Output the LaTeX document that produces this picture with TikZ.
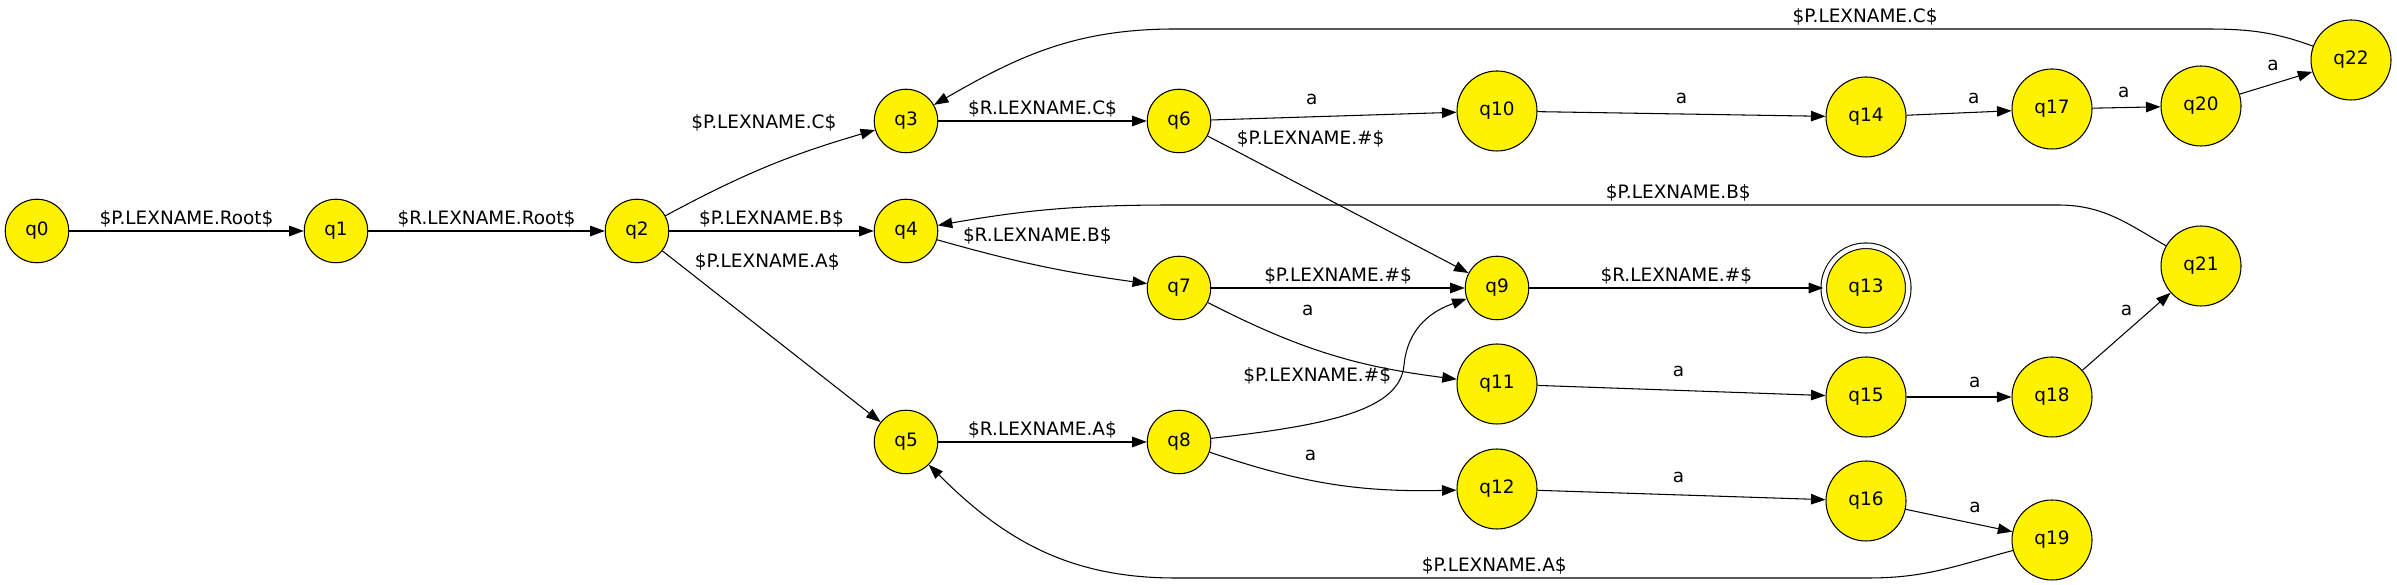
\documentclass[tikz,border=0pt]{standalone}
\usepackage{fontspec}
\setmainfont{DejaVu Sans}
\usetikzlibrary{arrows.meta}

\begin{document}
\begin{tikzpicture}[
		>={Triangle[length = 0.29cm, width = 0.21cm]},
		every node/.style = {font = \fontsize{10.5}{12}\selectfont},
		state/.style = {circle, draw, fill = yellow, line width = 0.6pt, minimum size = 1.27cm, inner sep = 0pt},
		bigstate/.style = {state, minimum size = 1.6cm},
		accept/.style = {bigstate, double, double distance = 0.09cm, minimum size = 1.69cm},
		edge/.style = {->, line width = 0.6pt},
		lbl/.style = {inner sep = 2pt, text height = 8.2pt, text depth = 1.6pt}
	]
	\useasboundingbox (0, 0) rectangle (47.94, 11.70);

	\node[state] (q0) at (0.74, 7.08) {q0};
	\node[state] (q1) at (6.72, 7.08) {q1};
	\node[state] (q2) at (12.74, 7.08) {q2};
	\node[state] (q3) at (18.12, 9.28) {q3};
	\node[state] (q4) at (18.12, 7.08) {q4};
	\node[state] (q5) at (18.12, 2.86) {q5};
	\node[state] (q6) at (23.58, 9.28) {q6};
	\node[state] (q7) at (23.58, 5.94) {q7};
	\node[state] (q8) at (23.58, 2.86) {q8};
	\node[state] (q9) at (29.94, 5.94) {q9};
	\node[bigstate] (q10) at (29.94, 9.48) {q10};
	\node[bigstate] (q11) at (29.94, 4.02) {q11};
	\node[bigstate] (q12) at (29.94, 1.92) {q12};
	\node[accept] (q13) at (37.32, 5.94) {q13};
	\node[bigstate] (q14) at (37.32, 9.36) {q14};
	\node[bigstate] (q15) at (37.32, 3.76) {q15};
	\node[bigstate] (q16) at (37.32, 1.68) {q16};
	\node[bigstate] (q17) at (41.04, 9.52) {q17};
	\node[bigstate] (q18) at (41.04, 3.76) {q18};
	\node[bigstate] (q19) at (41.04, 0.90) {q19};
	\node[bigstate] (q20) at (44.02, 9.58) {q20};
	\node[bigstate] (q21) at (44.02, 6.38) {q21};
	\node[bigstate] (q22) at (47.02, 10.50) {q22};

	\draw[edge] (q0) -- node[lbl, anchor = south]{\$P.LEXNAME.Root\$} (q1);
	\draw[edge] (q1) -- node[lbl, anchor = south]{\$R.LEXNAME.Root\$} (q2);
	\draw[edge] (q2) to[bend left = 6] node[lbl, pos = 0.48, above = 0.66cm]{\$P.LEXNAME.C\$} (q3);
	\draw[edge] (q2) -- node[lbl, anchor = south]{\$P.LEXNAME.B\$} (q4);
	\draw[edge] (q2) -- node[lbl, pos = 0.48, above = 1.18cm]{\$P.LEXNAME.A\$} (q5);
	\draw[edge] (q3) -- node[lbl, anchor = south]{\$R.LEXNAME.C\$} (q6);
	\draw[edge] (q4) to[bend right = 4] node[lbl, pos = 0.48, above = 0.34cm]{\$R.LEXNAME.B\$} (q7);
	\draw[edge] (q5) -- node[lbl, anchor = south]{\$R.LEXNAME.A\$} (q8);
	\draw[edge] (q6) -- node[lbl, pos = 0.41, above = 0.11cm]{a} (q10);
	\draw[edge] (q6) -- node[lbl, pos = 0.395, above = 0.78cm]{\$P.LEXNAME.\#\$} (q9);
	\draw[edge] (q7) -- node[lbl, anchor = south]{\$P.LEXNAME.\#\$} (q9);
	\draw[edge] (q7) to[bend right = 10] node[lbl, pos = 0.41, above = 0.49cm]{a} (q11);
	\draw[edge] (q8) .. controls (26.6, 3.2) and (28.0, 3.5) .. node[lbl, pos = 0.35, above = 0.68cm]{\$P.LEXNAME.\#\$} (28.08, 4.4) .. controls (28.16, 5.2) and (28.7, 5.5) .. (q9);
	\draw[edge] (q8) to[bend right = 10] node[lbl, pos = 0.41, above = 0.26cm]{a} (q12);
	\draw[edge] (q9) -- node[lbl, anchor = south]{\$R.LEXNAME.\#\$} (q13);
	\draw[edge] (q10) -- node[lbl, pos = 0.5, above = 0.07cm]{a} (q14);
	\draw[edge] (q11) -- node[lbl, pos = 0.49, above = 0.14cm]{a} (q15);
	\draw[edge] (q12) -- node[lbl, pos = 0.49, above = 0.11cm]{a} (q16);
	\draw[edge] (q14) -- node[lbl, pos = 0.64, above = 0.05cm]{a} (q17);
	\draw[edge] (q15) -- node[lbl, pos = 0.65, above = 0.05cm]{a} (q18);
	\draw[edge] (q16) -- node[lbl, pos = 0.65, above = 0.09cm]{a} (q19);
	\draw[edge] (q17) -- node[lbl, pos = 0.46, above = 0.07cm]{a} (q20);
	\draw[edge] (q18) -- node[lbl, pos = 0.5, above = 0.18cm]{a} (q21);
	\draw[edge] (q20) -- node[lbl, pos = 0.46, above = 0.13cm]{a} (q22);
	\draw[edge] (q22) to[out = 160, in = 0] (44.10, 11.12) -- node[lbl, pos = 0.33, anchor = south]{\$P.LEXNAME.C\$} (23.50, 11.12) to[out = 180, in = 30] (q3);
	\draw[edge] (q21) to[out = 150, in = 0] (41.16, 7.60) -- node[lbl, pos = 0.43, anchor = south]{\$P.LEXNAME.B\$} (23.50, 7.60) to[out = 180, in = 10] (q4);
	\draw[edge] (q19) to[out = 195, in = 0] (37.38, 0.14) -- node[lbl, pos = 0.54, anchor = south]{\$P.LEXNAME.A\$} (23.50, 0.14) to[out = 180, in = -45] (q5);
\end{tikzpicture}
\end{document}
